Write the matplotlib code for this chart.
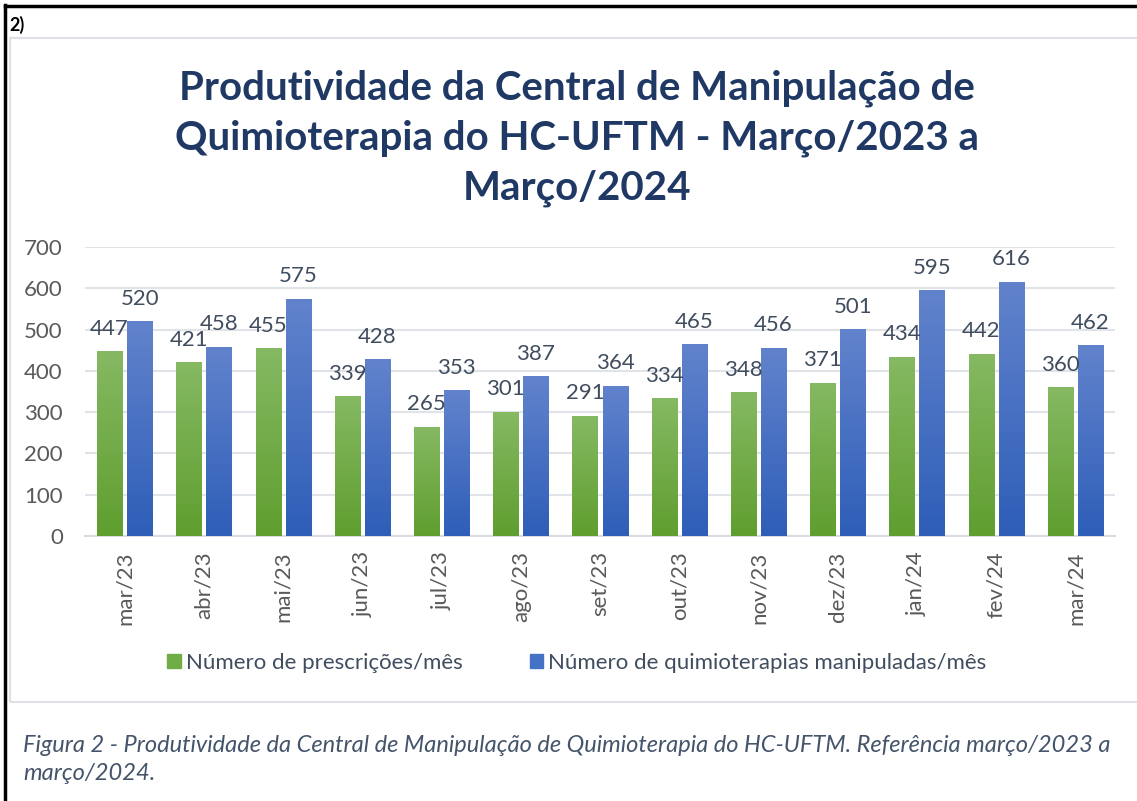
import matplotlib
matplotlib.use("Agg")
import matplotlib.pyplot as plt
import numpy as np
from matplotlib.patches import Rectangle
from matplotlib.lines import Line2D
from matplotlib.colors import LinearSegmentedColormap

categories = ["mar/23", "abr/23", "mai/23", "jun/23", "jul/23", "ago/23", "set/23",
              "out/23", "nov/23", "dez/23", "jan/24", "fev/24", "mar/24"]
prescricoes = [447, 421, 455, 339, 265, 301, 291, 334, 348, 371, 434, 442, 360]
quimioterapias = [520, 458, 575, 428, 353, 387, 364, 465, 456, 501, 595, 616, 462]
series_names = ["Número de prescrições/mês", "Número de quimioterapias manipuladas/mês"]
yticks = [0, 100, 200, 300, 400, 500, 600, 700]

W, H = 1137, 801
fig = plt.figure(figsize=(W / 100, H / 100), dpi=100)
plt.rcParams['font.family'] = ['Lato', 'DejaVu Sans']

def fx(px):
    return px / W

def fy(py):
    return 1 - py / H

# Outer black border (top and left)
fig.add_artist(Line2D([fx(5), fx(5)], [fy(5), fy(801)], color='black', lw=2.5, transform=fig.transFigure))
fig.add_artist(Line2D([fx(5), fx(1137)], [fy(6), fy(6)], color='black', lw=2.5, transform=fig.transFigure))
# Chart area light gray border
fig.add_artist(Rectangle((fx(10), fy(702)), fx(1140) - fx(10), fy(38) - fy(702), transform=fig.transFigure,
                         fill=False, edgecolor='#dde1e6', lw=1.5))

fig.text(fx(9), fy(25), "2)", fontsize=13, fontweight='bold', color='black', va='center', ha='left')

title_color = '#1f3864'
title_lines = ["Produtividade da Central de Manipulação de",
               "Quimioterapia do HC-UFTM - Março/2023 a",
               "Março/2024"]
for i, line in enumerate(title_lines):
    fig.text(fx(577), fy(88 + 50 * i), line, fontsize=29, fontweight='bold', color=title_color,
             ha='center', va='center')

ax = fig.add_axes([fx(85), fy(536), fx(1115) - fx(85), fy(247) - fy(536)])
x = np.arange(len(categories))
bw = 0.316
off = 0.19
b1 = ax.bar(x - off, prescricoes, bw, color='#70ad47', zorder=2)
b2 = ax.bar(x + off, quimioterapias, bw, color='#4472c4', zorder=2)

green_cmap = LinearSegmentedColormap.from_list('g', ['#5f9e2f', '#86b963'])
blue_cmap = LinearSegmentedColormap.from_list('b', ['#2e5eb8', '#6283cc'])
grad = np.linspace(0, 1, 256).reshape(-1, 1)
for bars, cmap in ((b1, green_cmap), (b2, blue_cmap)):
    for b in bars:
        x0, y0 = b.get_x(), b.get_y()
        w, h = b.get_width(), b.get_height()
        im = ax.imshow(grad, cmap=cmap, aspect='auto', origin='lower',
                       extent=(x0, x0 + w, y0, y0 + h), zorder=3)
        im.set_clip_path(b)

ax.set_xlim(-0.5, len(categories) - 0.5)
ax.set_ylim(0, 700)
ax.set_yticks(yticks)
ax.set_xticks(x)
ax.set_xticklabels(categories, rotation=90)
ax.tick_params(axis='y', length=0, pad=16, labelsize=16, labelcolor='#595959')
ax.tick_params(axis='x', length=0, pad=11, labelsize=16, labelcolor='#595959')
ax.grid(axis='y', color='#e0e3e8', lw=1.5, zorder=0)
ax.set_axisbelow(True)
for s in ['top', 'right', 'left']:
    ax.spines[s].set_visible(False)
ax.spines['bottom'].set_color('#d9dde3')
ax.spines['bottom'].set_linewidth(1.5)

for bars, vals in ((b1, prescricoes), (b2, quimioterapias)):
    for b, v in zip(bars, vals):
        ax.annotate(str(v), (b.get_x() + b.get_width() / 2, v), xytext=(0, 9), textcoords='offset points',
                    ha='center', va='bottom', fontsize=16, color='#404d5e', zorder=5)

handles = [Rectangle((0, 0), 1, 1, color='#70ad47'), Rectangle((0, 0), 1, 1, color='#4472c4')]
fig.legend(handles, series_names, loc='center', bbox_to_anchor=(fx(577), fy(663)), ncol=2,
           frameon=False, fontsize=16, handlelength=0.6, handleheight=0.6, handletextpad=0.25,
           columnspacing=3.0, labelcolor='#404d5e')

cap_color = '#44546a'
fig.text(fx(23), fy(745), "Figura 2 - Produtividade da Central de Manipulação de Quimioterapia do HC-UFTM. Referência março/2023 a",
         fontsize=17, style='italic', color=cap_color, ha='left', va='center')
fig.text(fx(23), fy(773), "março/2024.", fontsize=17, style='italic', color=cap_color, ha='left', va='center')

fig.savefig("out.png", dpi=100)
